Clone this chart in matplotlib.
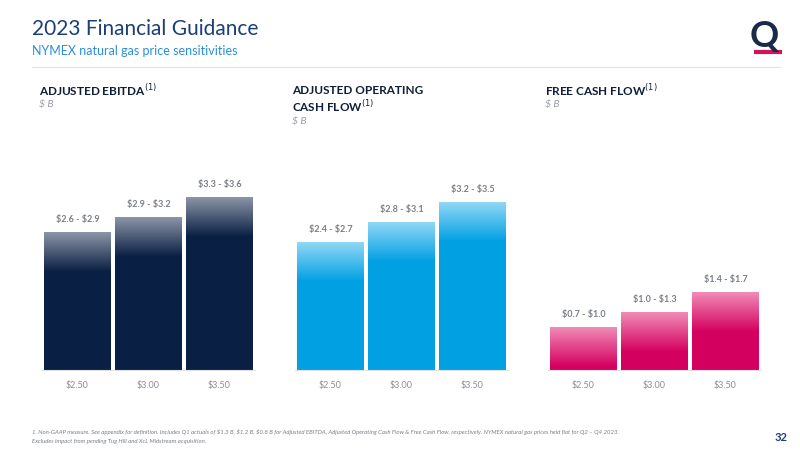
import matplotlib
matplotlib.use("Agg")
import matplotlib.pyplot as plt
import numpy as np
from matplotlib.colors import LinearSegmentedColormap

prices = ["\\$2.50", "\\$3.00", "\\$3.50"]
ebitda = [2.75, 3.05, 3.45]
ebitda_lbl = ["\\$2.6 - \\$2.9", "\\$2.9 - \\$3.2", "\\$3.3 - \\$3.6"]
aocf = [2.55, 2.95, 3.35]
aocf_lbl = ["\\$2.4 - \\$2.7", "\\$2.8 - \\$3.1", "\\$3.2 - \\$3.5"]
fcf = [0.85, 1.15, 1.55]
fcf_lbl = ["\\$0.7 - \\$1.0", "\\$1.0 - \\$1.3", "\\$1.4 - \\$1.7"]

plt.rcParams['font.family'] = ['Lato', 'DejaVu Sans']
fig = plt.figure(figsize=(8, 4.5), dpi=100)
fig.patch.set_facecolor("white")

fig.text(0.04, 0.935, "2023 Financial Guidance", fontsize=15, color="#1c3f7a", va="center")
fig.text(0.04, 0.887, "NYMEX natural gas price sensitivities", fontsize=9, color="#2a8fd8", va="center")
fig.add_artist(plt.Line2D([0.04, 0.975], [0.852, 0.852], color="#dde3ea", lw=0.8))
fig.text(0.955, 0.92, "Q", fontsize=26, fontweight="bold", color="#1a2a4a", ha="center", va="center")
fig.add_artist(plt.Line2D([0.945, 0.975], [0.885, 0.885], color="#d4145a", lw=3))

panels = [
    (42, ebitda, ebitda_lbl, "#0a1f44", "#8a94a6", ["ADJUSTED EBITDA$^{(1)}$"]),
    (295, aocf, aocf_lbl, "#00a0e3", "#8fd6f4", ["ADJUSTED OPERATING", "CASH FLOW$^{(1)}$"]),
    (548, fcf, fcf_lbl, "#d4005f", "#f08ab5", ["FREE CASH FLOW$^{(1)}$"]),
]
ymax = 4.8
n = 40
for x0, vals, lbls, col, light, title in panels:
    ax = fig.add_axes([x0/800, 1-370/450, 213/800, 240/450])
    ax.set_xlim(-0.5, 2.5)
    ax.set_ylim(0, ymax)
    cmap = LinearSegmentedColormap.from_list("g", [light, col])
    ax.bar(range(3), vals, width=0.95, color=col)
    g = 0.8
    for i, v in enumerate(vals):
        dh = g / n
        for k in range(n):
            ax.bar(i, dh * 1.05, bottom=v - (k + 1) * dh, width=0.95,
                   color=cmap(k / (n - 1)), linewidth=0, zorder=3)
        ax.text(i, v+0.17, lbls[i], ha="center", va="bottom", fontsize=6.5, color="#7a7f87", fontweight="bold")
    ax.set_xticks(range(3))
    ax.set_xticklabels(prices, fontsize=6.5, color="#8a8f96")
    ax.tick_params(length=0, pad=8)
    ax.set_yticks([])
    for s in ["top", "right", "left"]:
        ax.spines[s].set_visible(False)
    ax.spines["bottom"].set_color("#e0e0e0")
    ty = 1-90/450
    tx = x0/800 - 0.004
    for j, t in enumerate(title):
        fig.text(tx, ty - j*0.036, t, fontsize=8.5, fontweight="bold", color="#0f1f3a", va="center")
    fig.text(tx, ty - len(title)*0.036 + 0.003, "\\$ B", fontsize=7.5, style="italic", color="#9aa0a8", va="center")

fig.text(0.04, 0.035, "1. Non-GAAP measure. See appendix for definition. Includes Q1 actuals of \\$1.3 B, \\$1.2 B, \\$0.8 B for Adjusted EBITDA, Adjusted Operating Cash Flow & Free Cash Flow, respectively. NYMEX natural gas prices held flat for Q2 – Q4 2023.", fontsize=4.3, style="italic", color="#7a7f87")
fig.text(0.04, 0.015, "Excludes impact from pending Tug Hill and XcL Midstream acquisition.", fontsize=4.3, style="italic", color="#7a7f87")
fig.text(0.985, 0.02, "32", fontsize=8, fontweight="bold", color="#1c3f7a", ha="right")

fig.savefig("out.png", dpi=100, facecolor="white")
